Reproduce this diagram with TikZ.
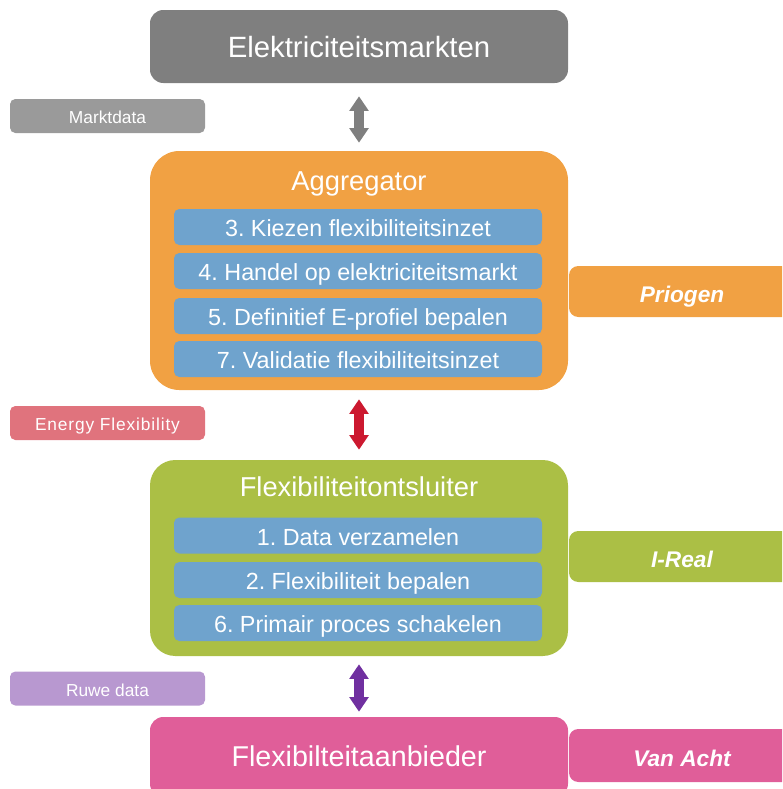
\documentclass[tikz,border=0pt]{standalone}
\usepackage{fontspec}
\setmainfont{Liberation Sans}
\usetikzlibrary{arrows.meta}
\frenchspacing

\definecolor{cgray}{HTML}{7F7F7F}
\definecolor{clgray}{HTML}{9A9A9A}
\definecolor{corange}{HTML}{F1A143}
\definecolor{cblue}{HTML}{6FA3CD}
\definecolor{cflex}{HTML}{E0737D}
\definecolor{cred}{HTML}{CC1930}
\definecolor{cgreen}{HTML}{ABBF45}
\definecolor{cruwe}{HTML}{B898D0}
\definecolor{cpurple}{HTML}{7030A0}
\definecolor{cpink}{HTML}{E05E99}

\tikzset{
  mainbox/.style={fill=#1, draw=none, text=white, minimum width=313.5pt, inner sep=0pt},
  stepbox/.style={fill=cblue, draw=none, rounded corners=4pt, text=white,
    minimum width=276pt, minimum height=27pt, inner sep=0pt,
    text height=14.7pt, text depth=0pt, font=\fontsize{17.5}{20}\selectfont},
  tagbox/.style={fill=#1, draw=none, rounded corners=4pt, text=white,
    minimum width=146.25pt, minimum height=25.5pt, inner sep=0pt,
    text height=11.5pt, text depth=0pt, font=\fontsize{13}{15}\selectfont},
  partnerbox/.style={fill=#1, draw=none, rounded corners=7pt, text=white,
    minimum width=169.5pt, inner sep=0pt, text height=16.7pt, text depth=0pt,
    font=\fontsize{17}{20}\selectfont\bfseries\itshape},
  title/.style={text=white, inner sep=0pt, text height=14.7pt, text depth=0pt,
    font=\fontsize{20.5}{24}\selectfont},
  flow/.style={draw=#1, line width=7pt,
    {Triangle[width=14pt,length=11pt]}-{Triangle[width=14pt,length=11pt]}}
}

\begin{document}
\begin{tikzpicture}[x=0.75pt, y=-0.75pt]
\useasboundingbox (0,0) rectangle (782,789);
\clip (0,0) rectangle (782,789);

% market layer
\node[mainbox=cgray, rounded corners=10pt, minimum height=54.75pt,
      text height=16.5pt, text depth=0pt,
      font=\fontsize{22}{25}\selectfont] (markt) at (359,46.5) {Elektriciteitsmarkten};
\node[tagbox=clgray] (tmarkt) at (107.5,116) {Marktdata};

% aggregator
\node[mainbox=corange, rounded corners=22pt, minimum height=179.25pt] (agg) at (359,270.5) {};
\node[title] (aggt) at (359,181) {Aggregator};
\node[stepbox] (s3) at (358,227) {3. Kiezen flexibiliteitsinzet};
\node[stepbox] (s4) at (358,271) {4. Handel op elektriciteitsmarkt};
\node[stepbox] (s5) at (358,316) {5. Definitief E-profiel bepalen};
\node[stepbox] (s7) at (358,359) {7. Validatie flexibiliteitsinzet};
\node[partnerbox=corange, minimum height=38.25pt] (priogen) at (682,291.5) {Priogen};

\node[tagbox=cflex, font=\fontsize{13}{15}\selectfont\addfontfeature{LetterSpace=5}]
  (tflex) at (107.5,423) {Energy Flexibility};

% flexibility unlocker
\node[mainbox=cgreen, rounded corners=19pt, minimum height=147pt] (fo) at (359,558) {};
\node[title] (fot) at (359,487) {Flexibiliteitontsluiter};
\node[stepbox] (s1) at (358,535.5) {1. Data verzamelen};
\node[stepbox] (s2) at (358,580) {2. Flexibiliteit bepalen};
\node[stepbox] (s6) at (358,623) {6. Primair proces schakelen};
\node[partnerbox=cgreen, minimum height=38.25pt] (ireal) at (682,556.5) {I-Real};

\node[tagbox=cruwe] (truwe) at (107.5,688.5) {Ruwe data};

% flexibility provider
\node[mainbox=cpink, rounded corners=10pt, minimum height=60pt,
      text height=13.9pt, text depth=0pt,
      font=\fontsize{21.5}{25}\selectfont] (fa) at (359,757) {Flexibilteitaanbieder};
\node[partnerbox=cpink, minimum height=39.75pt] (vanacht) at (682,755.5) {Van Acht};

% data flows between the layers
\draw[flow=cgray, shorten <=9.75pt, shorten >=6pt] (markt.south) -- (agg.north);
\draw[flow=cred, shorten <=6.75pt, shorten >=7.5pt] (agg.south) -- (fo.north);
\draw[flow=cpurple, shorten <=6pt, shorten >=3.75pt] (fo.south) -- (fa.north);
\end{tikzpicture}
\end{document}
